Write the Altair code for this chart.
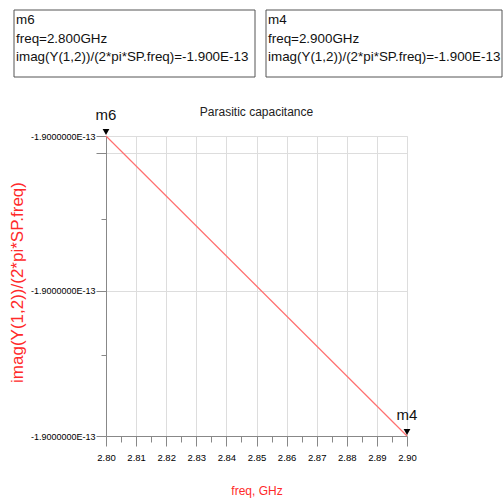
import altair as alt
import pandas as pd

# ---- data ----
freq = [2.80, 2.90]                          # GHz
y_vals = [-1.899999990e-13, -1.900000010e-13]  # imag(Y(1,2))/(2*pi*SP.freq)
marker_names = ["m6", "m4"]

x_major = [2.80, 2.81, 2.82, 2.83, 2.84, 2.85, 2.86, 2.87, 2.88, 2.89, 2.90]
x_minor = [2.805, 2.815, 2.825, 2.835, 2.845, 2.855, 2.865, 2.875, 2.885, 2.895]

y_major = [-1.899999990e-13, -1.8999999911e-13, -1.9000000003e-13, -1.900000010e-13]
y_minor = [-1.8999999955e-13, -1.9000000046e-13]
y_labelled = [-1.899999990e-13, -1.9000000003e-13, -1.900000010e-13]
y_grid = [-1.8999999911e-13, -1.9000000003e-13]

title_text = "Parasitic capacitance"
x_title = "freq, GHz"
y_title = "imag(Y(1,2))/(2*pi*SP.freq)"

df = pd.DataFrame({"freq": freq, "val": y_vals})
mk = pd.DataFrame({"name": marker_names, "freq": freq, "val": y_vals})
mk["box"] = [
    f"{n}\nfreq={f:.3f}GHz\n{y_title}={v:.3E}" for n, f, v in zip(marker_names, freq, y_vals)
]
tdf = pd.DataFrame({"t": [title_text]})

FONT = "Liberation Sans"
RED = "#ff2a2a"


def near(vals, tol):
    return " || ".join(f"abs(datum.value - ({v!r})) < {tol}" for v in vals)


x_is_major = f"({near(x_major, 1e-4)})"
y_is_major = f"({near(y_major, 3e-23)})"
y_is_lab = f"({near(y_labelled, 3e-23)})"
y_is_grid = f"({near(y_grid, 3e-23)})"

x_scale = alt.Scale(domain=[min(x_major), max(x_major)], nice=False, zero=False)
y_scale = alt.Scale(domain=[min(y_major), max(y_major)], nice=False, zero=False)

x_axis = alt.Axis(
    values=sorted(x_major + x_minor),
    tickCount=60,
    labelExpr=f"{x_is_major} ? format(datum.value, '.2f') : ''",
    labelFlush=False,
    labelOverlap=False,
    labelPadding=6,
    labelFontSize=9.5,
    tickSize={"condition": {"test": x_is_major, "value": 10}, "value": 6},
    grid=True,
    gridOpacity={"condition": {"test": x_is_major, "value": 1}, "value": 0},
    title=x_title,
    titleColor=RED,
    titleFontSize=12,
    titleFontWeight="normal",
    titleFont=FONT,
    titleX=150.5,
    titleY=54,
    titleBaseline="middle",
    titleAlign="center",
)

y_axis = alt.Axis(
    values=sorted(y_major + y_minor),
    tickCount=60,
    labelExpr=f"{y_is_lab} ? replace(upper(format(datum.value, '.7e')), '\u2212', '-') : ''",
    labelOverlap=False,
    labelPadding=1,
    labelFontSize=9,
    tickSize={"condition": {"test": y_is_major, "value": 10}, "value": 5},
    grid=True,
    gridOpacity={"condition": {"test": y_is_grid, "value": 1}, "value": 0},
    title=y_title,
    titleColor=RED,
    titleFontSize=17,
    titleFontWeight="normal",
    titleFont=FONT,
    titleAngle=-90,
    titleX=-89,
    titleY=146,
    titleBaseline="middle",
    titleAlign="center",
)

line = alt.Chart(df).mark_line(color="#ff7070", strokeWidth=1.2).encode(
    x=alt.X("freq:Q", scale=x_scale, axis=x_axis),
    y=alt.Y("val:Q", scale=y_scale, axis=y_axis),
)

tri = alt.Chart(mk).mark_point(
    shape="triangle-down", filled=True, size=45, color="black", opacity=1, yOffset=-4
).encode(x=alt.X("freq:Q"), y=alt.Y("val:Q"))

mlabel = alt.Chart(mk).mark_text(
    dy=-21, fontSize=15, font=FONT, color="#111"
).encode(x=alt.X("freq:Q"), y=alt.Y("val:Q"), text="name:N")

title_mark = alt.Chart(tdf).mark_text(
    fontSize=12, font=FONT, color="#222", baseline="alphabetic", align="center"
).encode(x=alt.value(150.5), y=alt.value(-20), text="t:N")


def box_layers(name, x0, x1):
    base = alt.Chart(mk).transform_filter(alt.datum.name == name)
    rect = base.mark_rect(fill="white", stroke="#555", strokeWidth=1).encode(
        x=alt.value(x0), x2=alt.value(x1), y=alt.value(-126), y2=alt.value(-59)
    )
    txt = base.mark_text(
        align="left", baseline="top", fontSize=13.4, font=FONT, color="#111",
        lineBreak="\n", lineHeight=18.5,
    ).encode(x=alt.value(x0 + 2), y=alt.value(-123), text="box:N")
    return rect + txt


chart = alt.layer(
    line, tri, mlabel, title_mark,
    box_layers("m6", -92, 149),
    box_layers("m4", 160, 396),
).properties(
    width=301,
    height=300,
    autosize=alt.AutoSizeParams(type="none"),
    padding={"left": 106, "top": 136, "right": 96, "bottom": 63},
).configure_view(
    stroke="#8c8c8c", strokeWidth=1.6
).configure_axis(
    labelFont=FONT,
    labelColor="#333",
    domainColor="#888",
    domainWidth=1.5,
    tickColor="#777",
    tickWidth=1,
    gridColor="#e2e2e2",
    gridWidth=1,
).configure(background="white")

chart.save("out.html", embed_options={"renderer": "svg", "actions": False})
